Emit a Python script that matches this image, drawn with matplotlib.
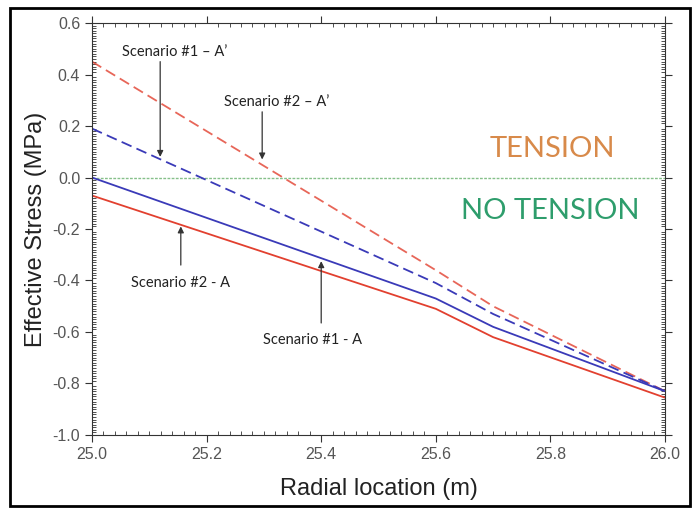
import matplotlib.pyplot as plt
from matplotlib.ticker import MultipleLocator
from matplotlib.patches import Rectangle

# radial location (m)
r = [25.0, 25.6, 25.7, 26.0]
# effective stress (MPa)
s1_A = [0.0, -0.47, -0.58, -0.83]        # blue solid
s2_A = [-0.07, -0.51, -0.62, -0.855]     # red solid
s1_Ap = [0.19, -0.41, -0.53, -0.83]      # blue dashed
s2_Ap = [0.45, -0.36, -0.50, -0.83]      # red dashed

red = '#e2402f'
blue = '#3a3ab8'

fig = plt.figure(figsize=(6.99, 5.09), dpi=100)
ax = fig.add_axes([0.1316, 0.1454, 0.8198, 0.8094])

ax.axhline(0, color='#86c08a', lw=1.0, ls=(0, (2, 1)), zorder=1)
ax.plot(r, s2_Ap, color=red, lw=1.3, ls=(0, (6, 3)), alpha=0.8)
ax.plot(r, s1_Ap, color=blue, lw=1.3, ls=(0, (6, 3)))
ax.plot(r, s1_A, color=blue, lw=1.3)
ax.plot(r, s2_A, color=red, lw=1.3)

ax.set_xlim(25.0, 26.0)
ax.set_ylim(-1.0, 0.6)
ax.xaxis.set_major_locator(MultipleLocator(0.2))
ax.xaxis.set_minor_locator(MultipleLocator(0.02))
ax.yaxis.set_major_locator(MultipleLocator(0.2))
ax.yaxis.set_minor_locator(MultipleLocator(0.01))
ax.xaxis.set_major_formatter(plt.FormatStrFormatter('%.1f'))
ax.yaxis.set_major_formatter(plt.FormatStrFormatter('%.1f'))
ax.tick_params(which='both', top=True, right=True, colors='#333333', labelcolor='#555555')
ax.tick_params(which='major', direction='out', length=5, labelsize=11.5)
ax.tick_params(which='minor', direction='in', length=3, width=0.6)
for sp in ax.spines.values():
    sp.set_color('#333333')

ax.set_xlabel('Radial location (m)', fontsize=17, family='Liberation Sans', color='#222222', labelpad=12)
ax.set_ylabel('Effective Stress (MPa)', fontsize=17, family='Liberation Sans', color='#222222')
for lab in ax.get_xticklabels() + ax.get_yticklabels():
    lab.set_family('Liberation Sans')

ax.text(25.803, 0.111, 'TENSION', color='#d88a4a', fontsize=21, family='Lato',
        ha='center', va='center')
ax.text(25.80, -0.13, 'NO TENSION', color='#2e9d6c', fontsize=21, family='Lato',
        ha='center', va='center')

arrow = dict(arrowstyle='-|>', lw=0.9, color='#333333', mutation_scale=9, shrinkA=0, shrinkB=0)
tk = dict(fontsize=10.5, family='Lato', color='#222222', ha='center', va='center')
ax.text(25.145, 0.487, "Scenario #1 \u2013 A\u2019", **tk)
ax.annotate('', xy=(25.119, 0.08), xytext=(25.119, 0.45), arrowprops=arrow)
ax.text(25.323, 0.293, "Scenario #2 \u2013 A\u2019", **tk)
ax.annotate('', xy=(25.297, 0.07), xytext=(25.297, 0.255), arrowprops=arrow)
ax.text(25.154, -0.41, 'Scenario #2 - A', **tk)
ax.annotate('', xy=(25.155, -0.19), xytext=(25.155, -0.34), arrowprops=arrow)
ax.text(25.384, -0.631, 'Scenario #1 - A', **tk)
ax.annotate('', xy=(25.40, -0.325), xytext=(25.40, -0.565), arrowprops=arrow)

fig.patches.append(Rectangle((0.0143, 0.006), 0.9727, 0.978, transform=fig.transFigure,
                             fill=False, edgecolor='black', lw=2))

fig.savefig('out.png', dpi=100)
